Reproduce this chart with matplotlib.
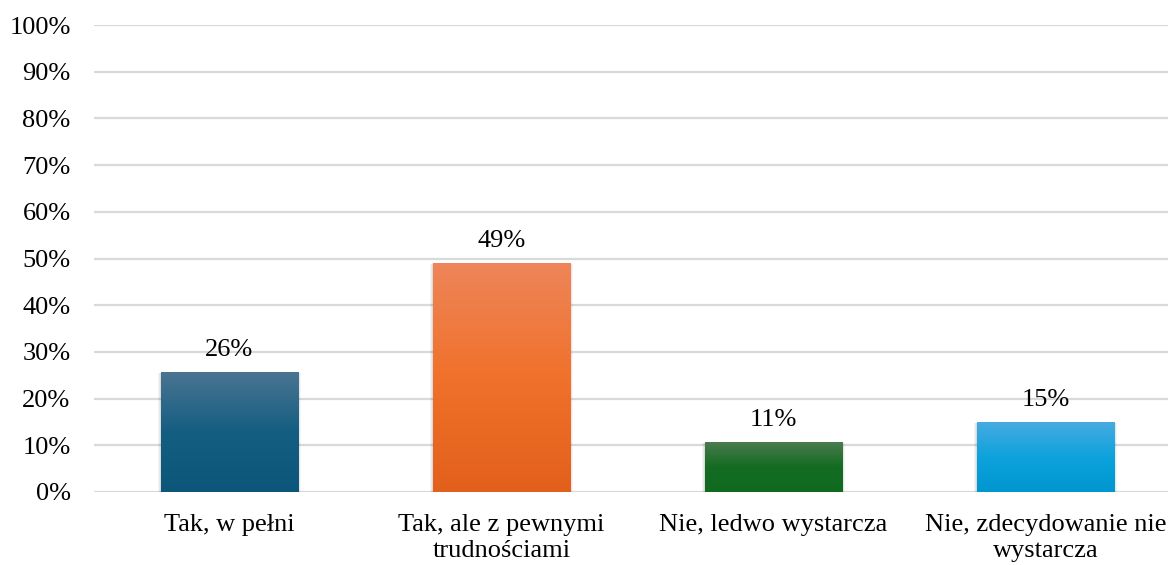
import matplotlib
matplotlib.use("Agg")
import matplotlib.pyplot as plt
import numpy as np
from matplotlib.colors import LinearSegmentedColormap
from matplotlib.patches import Rectangle

categories = ["Tak, w pełni", "Tak, ale z pewnymi\ntrudnościami",
              "Nie, ledwo wystarcza", "Nie, zdecydowanie nie\nwystarcza"]
values = [25.6, 49.0, 10.6, 14.9]
top_colors = ["#4a7492", "#ee8559", "#4a7b4e", "#47abe1"]
mid_colors = ["#145e81", "#f0712b", "#136c22", "#0da2dc"]
bottom_colors = ["#0b5679", "#e2601b", "#0f6a1e", "#0096cf"]
y_ticks = list(range(0, 101, 10))

plt.rcParams['font.family'] = ['Liberation Serif', 'DejaVu Serif']
FS = 19

W, H = 1168, 565
fig = plt.figure(figsize=(W / 100, H / 100), dpi=100)
left, right = 93.5, 1181.5
bottom_px, top_px = 492, 25
ax = fig.add_axes([left / W, (H - bottom_px) / H, (right - left) / W, (bottom_px - top_px) / H])
ax.set_xlim(-0.5, len(categories) - 0.5)
ax.set_ylim(0, 100)

for s in ax.spines.values():
    s.set_visible(False)
ax.set_yticks(y_ticks)
ax.set_yticklabels([f"{t}%" for t in y_ticks])
ax.yaxis.grid(True, color="#d9d9d9", linewidth=1.6)
ax.set_axisbelow(True)
ax.tick_params(axis='y', length=0, pad=16.5, labelsize=FS, colors="#000000")
ax.tick_params(axis='x', length=0, pad=15.5, labelsize=FS, colors="#000000")
ax.set_xticks(range(len(categories)))
ax.set_xticklabels(categories, linespacing=1.25)

bw = 0.505
for i, v in enumerate(values):
    # soft shadow
    for k, a in enumerate([0.06, 0.05, 0.04]):
        d = 0.004 * (k + 1)
        ax.add_patch(Rectangle((i - bw / 2 - d, -0.3 * (k + 1)), bw + 2 * d, v + 0.25 * (k + 1),
                               facecolor="#000000", alpha=a, edgecolor="none", zorder=2))
    cmap = LinearSegmentedColormap.from_list(f"g{i}", [bottom_colors[i], mid_colors[i], top_colors[i]])
    grad = np.linspace(0, 1, 256).reshape(-1, 1)
    ax.imshow(grad, extent=(i - bw / 2, i + bw / 2, 0, v), origin='lower', aspect='auto',
              cmap=cmap, zorder=3, interpolation='bilinear')
    ax.text(i, v + 2.4, f"{round(v):.0f}%", ha='center', va='bottom', fontsize=FS, zorder=4)

ax.set_xlim(-0.5, len(categories) - 0.5)
ax.set_ylim(0, 100)
fig.savefig("out.png", dpi=100)
